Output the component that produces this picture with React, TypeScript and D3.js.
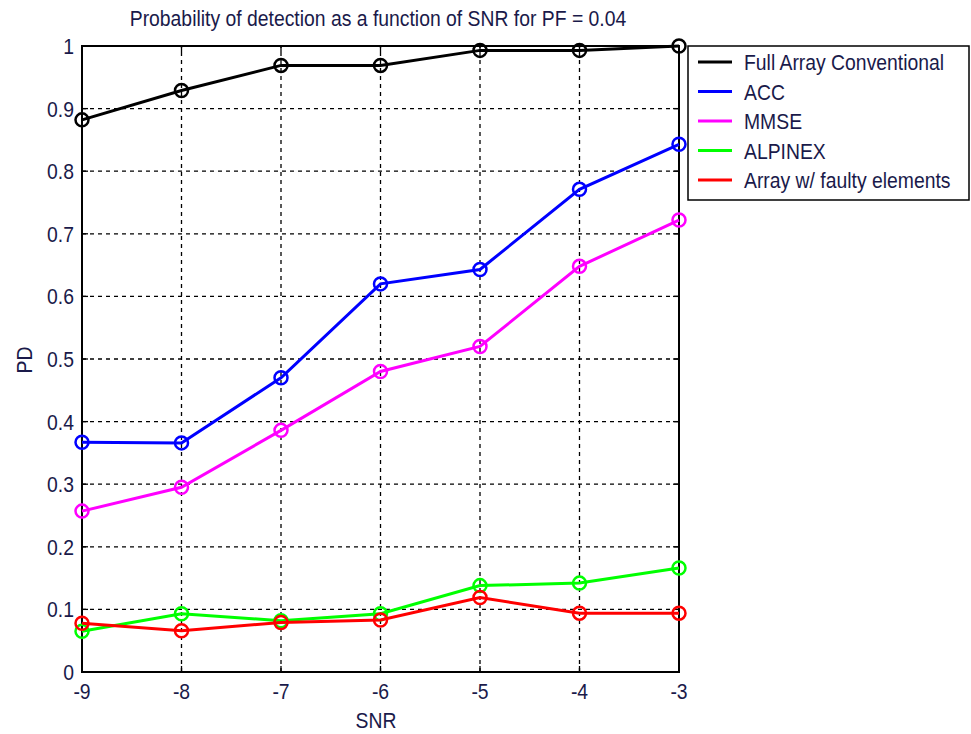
import React, { useEffect, useRef } from "react";
import * as d3 from "d3";

// SNR values on the x axis
const snr = [-9, -8, -7, -6, -5, -4, -3];

// PD per method
const fullArray = [0.882, 0.929, 0.969, 0.969, 0.993, 0.993, 1.0];
const acc = [0.367, 0.366, 0.47, 0.62, 0.643, 0.771, 0.843];
const mmse = [0.257, 0.295, 0.386, 0.48, 0.52, 0.648, 0.722];
const alpinex = [0.065, 0.093, 0.082, 0.093, 0.138, 0.142, 0.166];
const faulty = [0.078, 0.066, 0.079, 0.083, 0.119, 0.094, 0.094];

const seriesNames = [
  "Full Array Conventional",
  "ACC",
  "MMSE",
  "ALPINEX",
  "Array w/ faulty elements",
];
const seriesColors = ["#000000", "#0000ff", "#ff00ff", "#00ff00", "#ff0000"];

const yTicks = [0, 0.1, 0.2, 0.3, 0.4, 0.5, 0.6, 0.7, 0.8, 0.9, 1];
const yTickLabels = ["0", "0.1", "0.2", "0.3", "0.4", "0.5", "0.6", "0.7", "0.8", "0.9", "1"];

const FONT = "'Liberation Sans', Arial, sans-serif";
const TXT = "#1a1a4a";

export default function App() {
  const ref = useRef<SVGSVGElement>(null);

  useEffect(() => {
    const svg = d3.select(ref.current);
    svg.selectAll("*").remove();

    const width = 971,
      height = 734;
    const margin = { top: 46, right: 292, bottom: 62, left: 82 };

    const x = d3
      .scaleLinear()
      .domain([-9, -3])
      .range([margin.left, width - margin.right]);
    const y = d3
      .scaleLinear()
      .domain([0, 1])
      .range([height - margin.bottom, margin.top]);

    // narrow-looking text: normal font squeezed horizontally
    const label = (
      parent: d3.Selection<any, any, any, any>,
      tx: number,
      ty: number,
      s: string,
      anchor = "start",
      rotate = 0
    ) =>
      parent
        .append("text")
        .attr("transform", `translate(${tx},${ty}) rotate(${rotate}) scale(0.88,1)`)
        .attr("text-anchor", anchor)
        .attr("fill", TXT)
        .style("font-family", FONT)
        .style("font-size", "22px")
        .text(s);

    svg.append("rect").attr("width", width).attr("height", height).attr("fill", "#fff");

    // grid
    const grid = svg
      .append("g")
      .attr("stroke", "#000")
      .attr("stroke-width", 1.3)
      .attr("stroke-dasharray", "4,4");
    grid
      .selectAll("line.gx")
      .data(snr.slice(1, -1))
      .enter()
      .append("line")
      .attr("x1", (d) => x(d))
      .attr("x2", (d) => x(d))
      .attr("y1", y(0))
      .attr("y2", y(1));
    grid
      .selectAll("line.gy")
      .data(yTicks.slice(1, -1))
      .enter()
      .append("line")
      .attr("x1", x(-9))
      .attr("x2", x(-3))
      .attr("y1", (d) => y(d))
      .attr("y2", (d) => y(d));

    // ticks on all four sides
    const ticks = svg.append("g").attr("stroke", "#000").attr("stroke-width", 1.3);
    snr.forEach((d) => {
      ticks.append("line").attr("x1", x(d)).attr("x2", x(d)).attr("y1", y(0)).attr("y2", y(0) - 6);
      ticks.append("line").attr("x1", x(d)).attr("x2", x(d)).attr("y1", y(1)).attr("y2", y(1) + 6);
    });
    yTicks.forEach((d) => {
      ticks.append("line").attr("x1", x(-9)).attr("x2", x(-9) + 6).attr("y1", y(d)).attr("y2", y(d));
      ticks.append("line").attr("x1", x(-3)).attr("x2", x(-3) - 6).attr("y1", y(d)).attr("y2", y(d));
    });

    // tick labels
    const tl = svg.append("g");
    snr.forEach((d) => label(tl, x(d), y(0) + 27, String(d), "middle"));
    yTicks.forEach((d, i) => label(tl, x(-9) - 8, y(d) + 8, yTickLabels[i], "end"));

    svg
      .append("rect")
      .attr("x", x(-9))
      .attr("y", y(1))
      .attr("width", x(-3) - x(-9))
      .attr("height", y(0) - y(1))
      .attr("fill", "none")
      .attr("stroke", "#000")
      .attr("stroke-width", 2);

    // series
    const allSeries = [fullArray, acc, mmse, alpinex, faulty];
    const line = d3
      .line<number>()
      .x((_, i) => x(snr[i]))
      .y((d) => y(d));

    allSeries.forEach((vals, k) => {
      const g = svg.append("g");
      g.append("path")
        .attr("d", line(vals))
        .attr("fill", "none")
        .attr("stroke", seriesColors[k])
        .attr("stroke-width", 3);
      g.selectAll("circle")
        .data(vals)
        .enter()
        .append("circle")
        .attr("cx", (_, i) => x(snr[i]))
        .attr("cy", (d) => y(d))
        .attr("r", 6.5)
        .attr("fill", "none")
        .attr("stroke", seriesColors[k])
        .attr("stroke-width", 2.5);
    });

    // title and axis labels
    label(svg, 378, 26, "Probability of detection as a function of SNR for PF = 0.04", "middle");
    label(svg, 376, 728, "SNR", "middle");
    label(svg, 32, 360, "PD", "middle", -90);

    // legend
    const legend = svg.append("g").attr("transform", "translate(688,46)");
    legend
      .append("rect")
      .attr("width", 281)
      .attr("height", 154)
      .attr("fill", "#fff")
      .attr("stroke", "#000")
      .attr("stroke-width", 1.5);
    seriesNames.forEach((name, k) => {
      const ly = 16 + k * 29.5;
      legend
        .append("line")
        .attr("x1", 10)
        .attr("x2", 44)
        .attr("y1", ly)
        .attr("y2", ly)
        .attr("stroke", seriesColors[k])
        .attr("stroke-width", 3);
      label(legend, 56, ly + 8, name);
    });
  }, []);

  return (
    <svg
      ref={ref}
      width={971}
      height={734}
      style={{ position: "absolute", left: 0, top: 0 }}
    />
  );
}
